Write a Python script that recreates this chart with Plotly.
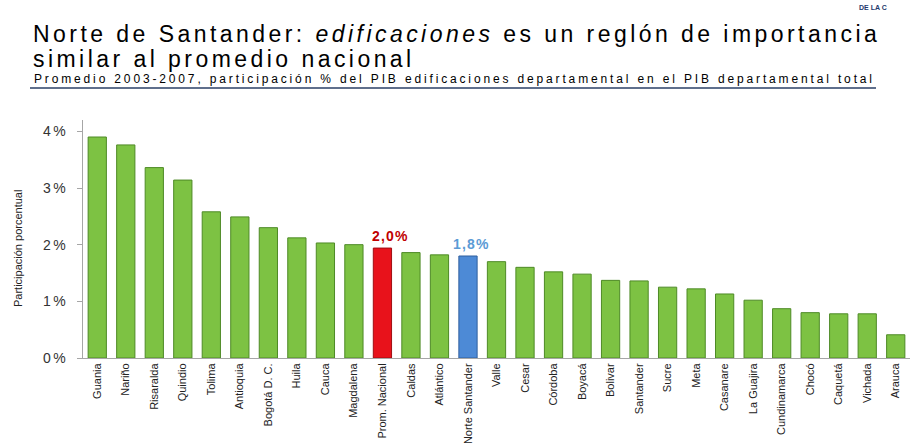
import plotly.graph_objects as go

categories = ["Guania", "Nariño", "Risaralda", "Quindio", "Tolima", "Antioquia", "Bogotá D. C.",
              "Huila", "Cauca", "Magdalena", "Prom. Nacional", "Caldas", "Atlántico",
              "Norte Santander", "Valle", "Cesar", "Córdoba", "Boyacá", "Bolivar", "Santander",
              "Sucre", "Meta", "Casanare", "La Guajira", "Cundinamarca", "Chocó", "Caquetá",
              "Vichada", "Arauca"]
values = [3.90, 3.76, 3.36, 3.14, 2.58, 2.49, 2.30, 2.12, 2.03, 2.00, 1.94, 1.86, 1.82,
          1.80, 1.70, 1.60, 1.52, 1.48, 1.37, 1.36, 1.25, 1.22, 1.13, 1.02, 0.87, 0.80,
          0.78, 0.78, 0.41]
highlight = {"Prom. Nacional": ("#E8121B", "#A00D12", "2,0%"),
             "Norte Santander": ("#4D8AD6", "#2F5F9E", "1,8%")}
label_colors = {"Prom. Nacional": "#C00000", "Norte Santander": "#5B9BD5"}
label_shift = {"Prom. Nacional": 8, "Norte Santander": 4}
y_ticks = [0, 1, 2, 3, 4]
y_tick_labels = ["0%", "1%", "2%", "3%", "4%"]

W, H = 913, 448
L, R, T, B = 83, 3, 120, 90
pw, ph = W - L - R, H - T - B

def px(x):
    return (x - L) / pw

def py(y):
    return (H - B - y) / ph

def spaced(s, sp):
    return '<span style="letter-spacing:%spx">%s</span>' % (sp, s)

colors = [highlight[c][0] if c in highlight else "#7DC243" for c in categories]
edges = [highlight[c][1] if c in highlight else "#4E8A26" for c in categories]

fig = go.Figure(go.Bar(x=categories, y=values, marker=dict(color=colors, line=dict(color=edges, width=1)),
                       width=0.64, hoverinfo="x+y"))

base = "Liberation Sans, Arial, sans-serif"
annotations = []
for c in highlight:
    i = categories.index(c)
    annotations.append(dict(x=c, y=values[i], text="<b>%s</b>" % spaced(highlight[c][2], 1.2),
                            showarrow=False, xshift=label_shift[c], yanchor="bottom", yshift=2,
                            font=dict(size=14, color=label_colors[c], family=base)))

title_font = dict(family=base, size=23, color="#000000")
annotations += [
    dict(xref="paper", yref="paper", x=px(31), y=py(34), xanchor="left", yanchor="middle",
         text=spaced("Norte de Santander: <i>edificaciones</i> es un reglón de importancia", 3.45),
         showarrow=False, font=title_font),
    dict(xref="paper", yref="paper", x=px(31), y=py(59), xanchor="left", yanchor="middle",
         text=spaced("similar al promedio nacional", 3.45), showarrow=False, font=title_font),
    dict(xref="paper", yref="paper", x=px(32), y=py(79.5), xanchor="left", yanchor="middle",
         text=spaced("Promedio 2003-2007, participación % del PIB edificaciones departamental en el PIB departamental total", 2.85),
         showarrow=False, font=dict(family=base, size=12, color="#000000")),
    dict(xref="paper", yref="paper", x=px(857), y=py(8), xanchor="left", yanchor="middle",
         text="<b>DE LA C</b>", showarrow=False, font=dict(family=base, size=7, color="#1F3A6E")),
    dict(xref="paper", yref="paper", x=px(18), y=py(249), xanchor="center", yanchor="middle",
         text="Participación porcentual", textangle=-90, showarrow=False,
         font=dict(family=base, size=11, color="#222222")),
]

fig.update_layout(
    width=W, height=H, margin=dict(l=L, r=R, t=T, b=B, autoexpand=False),
    paper_bgcolor="white", plot_bgcolor="white", showlegend=False,
    annotations=annotations,
    shapes=[dict(type="line", xref="paper", yref="paper", x0=px(30), x1=px(876), y0=py(88), y1=py(88),
                 line=dict(color="#2A3F66", width=1.5))],
    xaxis=dict(tickangle=-90, showline=True, linecolor="#A6A6A6", ticks="", showgrid=False,
               automargin=False, tickfont=dict(family=base, size=11, color="#222222"),
               range=[-0.5, 28.5]),
    yaxis=dict(range=[0, 4.2], tickvals=y_ticks, ticktext=[spaced(t, 2.5) for t in y_tick_labels],
               showline=True, automargin=False, ticklabelstandoff=6,
               linecolor="#A6A6A6", ticks="outside", ticklen=5, tickcolor="#A6A6A6", showgrid=False,
               zeroline=False, tickfont=dict(family=base, size=14, color="#333333")),
)

fig.write_html("out.html", config={"displayModeBar": False},
               post_script="document.body.style.margin='0';document.body.style.overflow='hidden';")
